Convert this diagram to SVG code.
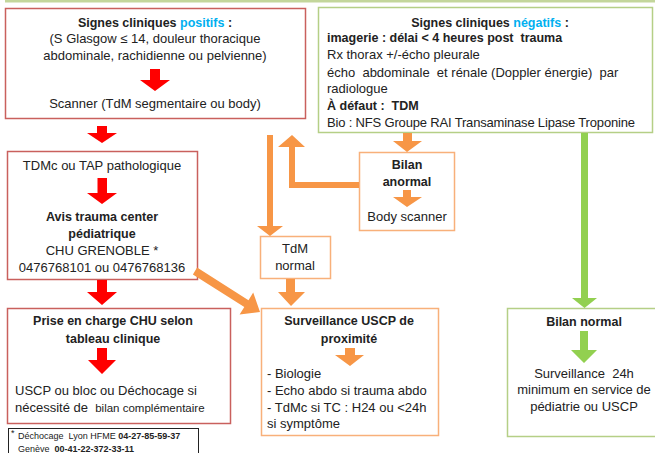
<svg xmlns="http://www.w3.org/2000/svg" width="655" height="453" viewBox="0 0 655 453">
<style>
text{font-family:"Liberation Sans",Arial,sans-serif;font-size:13px;fill:#222;white-space:pre}
.b{font-weight:bold;font-size:12.5px}
.c{text-anchor:middle}
.blue{fill:#00b0f0}
.rbox{fill:#fff;stroke:#c9605d;stroke-width:1.5}
.gbox{fill:#fff;stroke:#b5cf86;stroke-width:1.5}
.obox{fill:#fff;stroke:#f8b07a;stroke-width:1.5}
.red{fill:#ff0000}
.org{fill:#f79646}
.grn{fill:#92d050}
.fn{font-size:9px}
</style>
<rect x="5" y="0" width="650" height="2.5" fill="#c3d69b"/>

<g id="positifs">
<rect class="rbox" x="5.5" y="8.5" width="300" height="110"/>
<text class="b c" x="155" y="27">Signes cliniques <tspan class="blue">positifs</tspan> :</text>
<text class="c" x="155" y="43">(S Glasgow ≤ 14, douleur thoracique</text>
<text class="c" x="155" y="60">abdominale, rachidienne ou pelvienne)</text>
<polygon class="red" points="150,69 160,69 160,80 170,80 155,91 140,80 150,80"/>
<text class="c" x="155" y="108">Scanner (TdM segmentaire ou body)</text>
</g>

<g id="tdmc">
<rect class="rbox" x="7.5" y="151.5" width="190" height="128"/>
<text class="c" x="102" y="170">TDMc ou TAP pathologique</text>
<polygon class="red" points="97.5,178 107,178 107,193 117,193 102,204 87,193 97.5,193"/>
<text class="b c" x="102" y="221">Avis trauma center</text>
<text class="b c" x="102" y="238">pédiatrique</text>
<text class="c" x="102" y="255">CHU GRENOBLE *</text>
<text class="c" x="102" y="272">0476768101 ou 0476768136</text>
</g>

<g id="prise">
<rect class="rbox" x="7.5" y="308.5" width="223" height="115"/>
<text class="b c" x="113" y="325">Prise en charge CHU selon</text>
<text class="b c" x="113" y="343">tableau clinique</text>
<polygon class="red" points="97,348 107,348 107,360 116,360 102,374 88,360 97,360"/>
<text x="15" y="395">USCP ou bloc ou Déchocage si</text>
<text x="15" y="412">nécessité de  <tspan font-size="11.5">bilan complémentaire</tspan></text>
</g>

<g id="footnote">
<rect x="8.5" y="428.5" width="190" height="30" fill="#fff" stroke="#222" stroke-width="1"/>
<text class="fn" x="11" y="436" font-size="7">*</text>
<text class="fn" x="18" y="439">Déchocage  Lyon HFME <tspan font-weight="bold">04-27-85-59-37</tspan></text>
<text class="fn" x="18" y="452">Genève  <tspan font-weight="bold">00-41-22-372-33-11</tspan></text>
</g>

<g id="negatifs">
<rect class="gbox" x="318.5" y="7.5" width="334" height="125"/>
<text class="b c" x="490" y="27">Signes cliniques <tspan class="blue">négatifs</tspan> :</text>
<text class="b" x="327" y="42">imagerie : délai &lt; 4 heures post  trauma</text>
<text x="327" y="59">Rx thorax +/-écho pleurale</text>
<text x="327" y="77">écho  abdominale  et rénale (Doppler énergie)  par</text>
<text x="327" y="93">radiologue</text>
<text class="b" x="327" y="110" font-size="11.5">À défaut :  TDM</text>
<text x="327" y="127" textLength="308">Bio : NFS Groupe RAI Transaminase Lipase Troponine</text>
</g>

<g id="bilan-anormal">
<rect class="obox" x="359.5" y="152.5" width="95" height="78"/>
<text class="b c" x="407" y="169">Bilan</text>
<text class="b c" x="407" y="186">anormal</text>
<polygon class="org" points="403,190 411,190 411,197 422,197 407,207 393,197 403,197"/>
<text class="c" x="407" y="221">Body scanner</text>
</g>

<g id="tdm-normal">
<rect class="obox" x="260.5" y="236.5" width="70" height="42"/>
<text class="c" x="295" y="253">TdM</text>
<text class="c" x="295" y="270">normal</text>
</g>

<g id="surveillance">
<rect class="obox" x="261.5" y="308.5" width="177" height="127"/>
<text class="b c" x="349" y="325">Surveillance USCP de</text>
<text class="b c" x="349" y="343">proximité</text>
<polygon class="org" points="345,348 355,348 355,355 364,355 350,366 335,355 345,355"/>
<text x="267" y="378">- Biologie</text>
<text x="267" y="395">- Echo abdo si trauma abdo</text>
<text x="267" y="412">- TdMc si TC : H24 ou &lt;24h</text>
<text x="267" y="428">si symptôme</text>
</g>

<g id="bilan-normal">
<rect class="gbox" x="507.5" y="308.5" width="150" height="128"/>
<text class="b c" x="584" y="326">Bilan normal</text>
<polygon class="grn" points="580,331 588,331 588,350 597,350 584,363 571,350 580,350"/>
<text class="c" x="584" y="378">Surveillance  24h</text>
<text class="c" x="584" y="394">minimum en service de</text>
<text class="c" x="584" y="411">pédiatrie ou USCP</text>
</g>

<g id="connectors">
<polygon class="red" points="97,126 107,126 107,133 117,133 102,143 87,133 97,133"/>
<polygon class="red" points="97,280 107,280 107,292 117,292 102,305 87,292 97,292"/>
<polygon class="org" points="267,135 273,135 273,226 283,226 270,236 257,226 267,226"/>
<polygon class="org" points="359,182 359,188 289,188 289,147 278,147 292,135 305,147 295,147 295,182"/>
<polygon class="org" points="403,133 412,133 412,141 422,141 407,152 393,141 403,141"/>
<polygon class="org" points="286,279 295,279 295,292 305,292 291,306 278,292 286,292"/>
<polygon class="org" points="197.1,267.6 248.5,300.2 253.2,292.5 260,312 239.6,314.6 244.3,307 192.9,274.4"/>
<polygon class="grn" points="581,133 588,133 588,298 597,298 584.5,308 572,298 581,298"/>
</g>
</svg>
